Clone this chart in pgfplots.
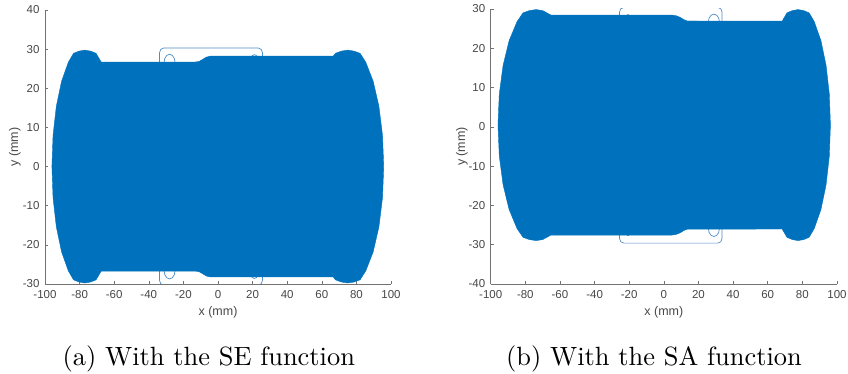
\documentclass[border=0pt]{standalone}
\usepackage{pgfplots}
\pgfplotsset{compat=1.18}
\usepackage{fontspec}
\newfontfamily\msans{Liberation Sans}
\definecolor{mblue}{RGB}{0,114,189}
\definecolor{mline}{RGB}{80,140,195}
\begin{document}
\begin{tikzpicture}[x=1pt,y=1pt]
\useasboundingbox (0,0) rectangle (848,374);
\pgfplotsset{mstyle/.style={scale only axis,
  axis x line*=bottom, axis y line*=left,
  tick align=inside, major tick length=3pt,
  xmin=-100, xmax=100,
  xtick={-100,-80,-60,-40,-20,0,20,40,60,80,100},
  xticklabels={-100,-80,-60,-40,-20,0,20,40,60,80,100},
  ticklabel style={font=\msans\fontsize{11.5}{13}\selectfont, text=black!72},
  xticklabel style={yshift=-2.5pt},
  yticklabel style={xshift=-2pt},
  label style={font=\msans\fontsize{12.5}{14}\selectfont, text=black!72},
  axis line style={black!55, line width=0.5pt},
  tick style={black!55, line width=0.5pt},
  xlabel={x (mm)}, ylabel={y (mm)},
}}
% ---------------- (a) ----------------
\begin{axis}[mstyle, at={(45pt,90pt)}, anchor=south west,
  width=346pt, height=274pt,
  ymin=-30, ymax=40,
  ytick={-30,-20,-10,0,10,20,30,40},
  yticklabels={-30,-20,-10,0,10,20,30,40},
  xlabel style={at={(axis description cs:0.5,-0.102)}, anchor=center},
  ylabel style={at={(axis description cs:-0.087,0.5)}, anchor=center},
]
% thin loops
\addplot[mline, line width=0.7pt] coordinates {(-33.8,29.1) (-33.07,29.95) (-31.3,30.3) (23.2,30.3) (24.97,29.95) (25.7,29.1) (25.7,-29.1) (24.97,-29.95) (23.2,-30.3) (-31.3,-30.3) (-33.07,-29.95) (-33.8,-29.1)} -- cycle;
\addplot[mline, line width=0.7pt] coordinates {(-24.8,26.5) (-25.23,27.6) (-26.4,28.41) (-28,28.7) (-29.6,28.41) (-30.77,27.6) (-31.2,26.5) (-30.77,25.4) (-29.6,24.59) (-28,24.3) (-26.4,24.59) (-25.23,25.4)} -- cycle;
\addplot[mline, line width=0.7pt] coordinates {(-24.8,-26.5) (-25.23,-27.6) (-26.4,-28.41) (-28,-28.7) (-29.6,-28.41) (-30.77,-27.6) (-31.2,-26.5) (-30.77,-25.4) (-29.6,-24.59) (-28,-24.3) (-26.4,-24.59) (-25.23,-25.4)} -- cycle;
\addplot[mline, line width=0.7pt] coordinates {(23.6,26.6) (23.25,27.6) (22.3,28.33) (21,28.6) (19.7,28.33) (18.75,27.6) (18.4,26.6) (18.75,25.6) (19.7,24.87) (21,24.6) (22.3,24.87) (23.25,25.6)} -- cycle;
\addplot[mline, line width=0.7pt] coordinates {(23.6,-26.6) (23.25,-27.6) (22.3,-28.33) (21,-28.6) (19.7,-28.33) (18.75,-27.6) (18.4,-26.6) (18.75,-25.6) (19.7,-24.87) (21,-24.6) (22.3,-24.87) (23.25,-25.6)} -- cycle;
% dense trajectory region
\addplot[fill=mblue, draw=mblue, line width=0.4pt] coordinates {
(-67.5,26.7) (-13.3,26.7) (-11,26.85) (-8.8,27.4) (-6.8,27.95) (-4.6,28.2)
(66.6,28.2) (67.89,28.94) (71.4,29.5) (75,29.75) (78.6,29.5) (82.11,28.94) (85.4,26.67) (89.71,21.78) (93.01,15.4) (95.09,7.97) (95.8,0)
(95.09,-7.97) (93.01,-15.4) (89.71,-21.78) (85.4,-26.67) (82.11,-28.94) (78.6,-29.5) (75,-29.75) (71.4,-29.5) (67.89,-28.94) (66.6,-28.2)
(-4.6,-28.2) (-6.8,-27.95) (-8.8,-27.4) (-11,-26.85) (-13.3,-26.7)
(-67.5,-26.7) (-70.5,-28.94) (-73.7,-29.5) (-77,-29.75) (-80.3,-29.5) (-83.5,-28.94) (-86.5,-26.67) (-90.43,-21.78) (-93.45,-15.4) (-95.35,-7.97) (-96,0)
(-95.35,7.97) (-93.45,15.4) (-90.43,21.78) (-86.5,26.67) (-83.5,28.94) (-80.3,29.5) (-77,29.75) (-73.7,29.5) (-70.5,28.94)
} -- cycle;
\end{axis}
% ---------------- (b) ----------------
\begin{axis}[mstyle, at={(490.7pt,90pt)}, anchor=south west,
  width=346.3pt, height=275pt,
  ymin=-40, ymax=30,
  ytick={-40,-30,-20,-10,0,10,20,30},
  yticklabels={-40,-30,-20,-10,0,10,20,30},
  xlabel style={at={(axis description cs:0.5,-0.102)}, anchor=center},
  ylabel style={at={(axis description cs:-0.083,0.5)}, anchor=center},
]
\addplot[mline, line width=0.7pt] coordinates {(-25.6,29.2) (-24.87,30.05) (-23.1,30.4) (31.1,30.4) (32.87,30.05) (33.6,29.2) (33.6,-28.4) (32.87,-29.25) (31.1,-29.6) (-23.1,-29.6) (-24.87,-29.25) (-25.6,-28.4)} -- cycle;
\addplot[mline, line width=0.7pt] coordinates {(32.1,26.7) (31.67,27.7) (30.5,28.43) (28.9,28.7) (27.3,28.43) (26.13,27.7) (25.7,26.7) (26.13,25.7) (27.3,24.97) (28.9,24.7) (30.5,24.97) (31.67,25.7)} -- cycle;
\addplot[mline, line width=0.7pt] coordinates {(32.1,-25.9) (31.67,-26.9) (30.5,-27.63) (28.9,-27.9) (27.3,-27.63) (26.13,-26.9) (25.7,-25.9) (26.13,-24.9) (27.3,-24.17) (28.9,-23.9) (30.5,-24.17) (31.67,-24.9)} -- cycle;
\addplot[mline, line width=0.7pt] coordinates {(-19.5,27.3) (-20.1,28.43) (-20.7,28.6) (-21.3,28.43) (-21.9,27.3) (-20.7,26.0)} -- cycle;
\addplot[mline, line width=0.7pt] coordinates {(-19.5,-26.4) (-20.1,-27.53) (-20.7,-27.7) (-21.3,-27.53) (-21.9,-26.4) (-20.7,-25.1)} -- cycle;
\addplot[fill=mblue, draw=mblue, line width=0.4pt] coordinates {
(-65.22,28.45) (4.5,28.45) (7,28.3) (9.5,27.85) (11.5,27.3) (13.5,26.95)
(68.3,26.9) (71.1,29.02) (74.25,29.6) (77.5,29.85) (80.75,29.6) (83.9,29.02) (86.85,26.78) (90.72,21.95) (93.69,15.65) (95.56,8.32) (96.2,0.45)
(95.56,-7.42) (93.69,-14.75) (90.72,-21.05) (86.85,-25.88) (83.9,-28.12) (80.75,-28.7) (77.5,-28.95) (74.25,-28.7) (71.1,-28.12) (68.3,-26.0)
(13.5,-26.05) (11.5,-26.4) (9.5,-26.95) (7,-27.4) (4.5,-27.55)
(-65.22,-27.55) (-69.98,-28.7) (-73.8,-28.95) (-77.62,-28.7) (-81.32,-28.12) (-84.8,-25.88) (-89.36,-21.05) (-92.85,-14.75) (-95.05,-7.42) (-95.8,0.45)
(-95.05,8.32) (-92.85,15.65) (-89.36,21.95) (-84.8,26.78) (-81.32,29.02) (-77.62,29.6) (-73.8,29.85) (-69.98,29.6)
} -- cycle;
\end{axis}
% captions
\node[scale=2.64, anchor=base, inner sep=0pt] at (208.8,8.5) {\fontsize{10}{12}\selectfont (a) With the SE function};
\node[scale=2.64, anchor=base, inner sep=0pt] at (654,8.5) {\fontsize{10}{12}\selectfont (b) With the SA function};
\end{tikzpicture}
\end{document}
